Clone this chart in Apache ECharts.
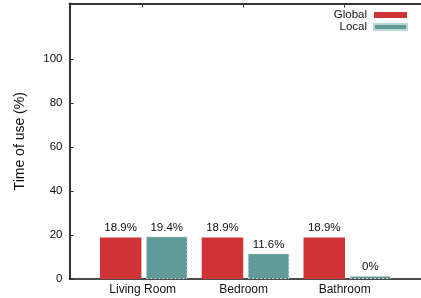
<!DOCTYPE html>
<html>
<head>
<meta charset="utf-8">
<script src="https://cdn.jsdelivr.net/npm/echarts@6/dist/echarts.min.js"></script>
<style>html,body{margin:0;padding:0;background:#fff}#c{width:421px;height:298px}</style>
</head>
<body>
<div id="c"></div>
<script>
var categories = ['Living Room', 'Bedroom', 'Bathroom'];
var globalValues = [18.9, 18.9, 18.9];
var localValues = [19.4, 11.6, 0];
var yTicks = [0, 20, 40, 60, 80, 100];
var seriesNames = ['Global', 'Local'];

var FONT = 'Liberation Sans, Arial, Helvetica, sans-serif';
var chart = echarts.init(document.getElementById('c'), null, {renderer: 'canvas'});
var catIdx = categories.map(function (c, i) { return i; });

var option = {
  animation: false,
  backgroundColor: '#fff',
  textStyle: {fontFamily: FONT},
  legend: {
    orient: 'vertical',
    right: 8,
    top: 4,
    align: 'right',
    icon: 'rect',
    itemWidth: 33,
    itemHeight: 6,
    itemGap: 0,
    data: seriesNames,
    textStyle: {fontFamily: FONT, fontSize: 11.5, color: '#111', lineHeight: 11, padding: [0, 2, 0, 0]}
  },
  grid: [
    {left: 69.5, right: 0, top: 3.5, bottom: 19, containLabel: false},
    {left: 92.8, right: 22.8, top: 3.5, bottom: 19, containLabel: false}
  ],
  xAxis: [
    {
      gridIndex: 0, type: 'value', min: -0.725, max: 2.756, position: 'bottom',
      axisLine: {show: true, onZero: false, lineStyle: {color: '#111', width: 1.5}},
      axisTick: {show: false},
      splitLine: {show: false},
      axisLabel: {
        show: true, customValues: catIdx, margin: 5,
        fontFamily: FONT, fontSize: 12, color: '#111',
        formatter: function (v) { return categories[Math.round(v)]; }
      }
    },
    {
      gridIndex: 0, type: 'value', min: -0.725, max: 2.756, position: 'top',
      axisLine: {show: true, onZero: false, lineStyle: {color: '#333', width: 2}},
      axisTick: {show: true, inside: true, length: 4, customValues: catIdx, lineStyle: {color: '#333', width: 1}},
      splitLine: {show: false},
      axisLabel: {show: false}
    },
    {
      gridIndex: 1, type: 'category', data: categories,
      axisLine: {show: false}, axisTick: {show: false}, axisLabel: {show: false}
    }
  ],
  yAxis: [
    {
      gridIndex: 0, type: 'value', min: 0, max: 125.4,
      name: 'Time of use (%)', nameLocation: 'middle', nameGap: 42,
      nameTextStyle: {fontFamily: FONT, fontSize: 14, color: '#111'},
      axisLine: {show: true, onZero: false, lineStyle: {color: '#333', width: 2}},
      axisTick: {show: true, inside: true, length: 4, customValues: yTicks, lineStyle: {color: '#333', width: 1}},
      axisLabel: {customValues: yTicks, margin: 7, fontFamily: FONT, fontSize: 11.5, color: '#111'},
      splitLine: {show: false}
    },
    {
      gridIndex: 1, type: 'value', min: 0, max: 125.4,
      axisLine: {show: false}, axisTick: {show: false}, axisLabel: {show: false}, splitLine: {show: false}
    }
  ],
  series: [
    {
      name: seriesNames[0], type: 'bar', xAxisIndex: 2, yAxisIndex: 1,
      data: globalValues, barWidth: 41.5, barGap: '11%',
      itemStyle: {color: '#cf3336'},
      label: {show: true, position: 'top', distance: 4, formatter: '{c}%', fontFamily: FONT, fontSize: 11.5, color: '#111'}
    },
    {
      name: seriesNames[1], type: 'bar', xAxisIndex: 2, yAxisIndex: 1,
      data: localValues, barWidth: 41.5, barGap: '11%', barMinHeight: 3,
      itemStyle: {color: '#609a98', borderColor: '#bcd6d5', borderWidth: 1, borderType: [2, 2]},
      label: {show: true, position: 'top', distance: 3, formatter: '{c}%', fontFamily: FONT, fontSize: 11.5, color: '#111'}
    }
  ]
};
chart.setOption(option);
</script>
</body>
</html>
